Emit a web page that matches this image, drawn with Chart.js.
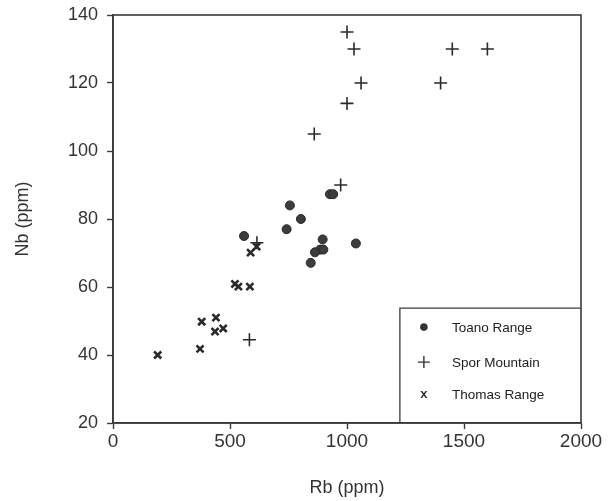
<!DOCTYPE html>
<html>
<head>
<meta charset="utf-8">
<script src="https://cdn.jsdelivr.net/npm/chart.js@4"></script>
<style>
  html, body { margin: 0; padding: 0; background: #fff; }
  #wrap { width: 611px; height: 501px; }
</style>
</head>
<body>
<div id="wrap"><canvas id="c" width="611" height="501"></canvas></div>
<script>
// values
var toanoRb = [560, 756, 803, 742, 927, 941, 896, 885, 899, 863, 845, 1038];
var toanoNb = [75, 84, 80, 77, 87.3, 87.3, 74, 71, 71, 70.2, 67.1, 72.8];

var sporRb = [1000, 1030, 1450, 1600, 1060, 1400, 1000, 860, 973, 615, 583];
var sporNb = [135, 130, 130, 130, 120, 120, 114, 105, 90, 73, 44.5];

var thomasRb = [614, 588, 521, 536, 585, 379, 440, 436, 471, 372, 191];
var thomasNb = [71.9, 70.1, 60.9, 60.1, 60.1, 49.8, 51, 46.9, 47.8, 41.8, 40];

var seriesNames = ['Toano Range', 'Spor Mountain', 'Thomas Range'];
var xTicks = [0, 500, 1000, 1500, 2000];
var yTicks = [20, 40, 60, 80, 100, 120, 140];

function pts(xs, ys) {
  return xs.map(function (x, i) { return { x: x, y: ys[i] }; });
}

var ink = '#3a3a3a';
var font = "'Liberation Sans', Arial, sans-serif";

// frame + legend box, drawn after datasets
var framePlugin = {
  id: 'frame',
  afterDraw: function (chart) {
    var ctx = chart.ctx, a = chart.chartArea;
    var xs = chart.scales.x, ys = chart.scales.y;
    ctx.save();
    ctx.strokeStyle = ink;
    ctx.lineWidth = 1.6;
    ctx.strokeRect(a.left, a.top, a.right - a.left, a.bottom - a.top);

    // legend box in the lower right corner
    var bx = xs.getPixelForValue(1226), by = ys.getPixelForValue(53.8);
    ctx.lineWidth = 1.3;
    ctx.beginPath();
    ctx.moveTo(bx, a.bottom);
    ctx.lineTo(bx, by);
    ctx.lineTo(a.right, by);
    ctx.stroke();

    var mx = bx + 24, tx = bx + 52;
    var rows = [by + 19, by + 54, by + 86];
    ctx.fillStyle = '#333';
    ctx.strokeStyle = '#333';
    // dot
    ctx.beginPath();
    ctx.arc(mx, rows[0], 3.8, 0, Math.PI * 2);
    ctx.fill();
    // plus
    ctx.lineWidth = 1.4;
    ctx.beginPath();
    ctx.moveTo(mx - 6, rows[1]); ctx.lineTo(mx + 6, rows[1]);
    ctx.moveTo(mx, rows[1] - 6); ctx.lineTo(mx, rows[1] + 6);
    ctx.stroke();
    // x
    ctx.font = 'bold 13px ' + font;
    ctx.textAlign = 'center';
    ctx.textBaseline = 'middle';
    ctx.fillText('x', mx, rows[2]);

    ctx.textAlign = 'left';
    ctx.fillStyle = '#222';
    ctx.font = '13.5px ' + font;
    seriesNames.forEach(function (n, i) {
      ctx.fillText(n, tx, rows[i] + 1);
    });
    ctx.restore();
  }
};

new Chart(document.getElementById('c'), {
  type: 'scatter',
  data: {
    datasets: [
      {
        label: seriesNames[0],
        data: pts(toanoRb, toanoNb),
        pointStyle: 'circle',
        pointRadius: 4.5,
        backgroundColor: '#3c3c3c',
        borderColor: '#2a2a2a',
        borderWidth: 1
      },
      {
        label: seriesNames[1],
        data: pts(sporRb, sporNb),
        pointStyle: 'cross',
        pointRadius: 6.5,
        borderColor: '#2a2a2a',
        borderWidth: 1.6
      },
      {
        label: seriesNames[2],
        data: pts(thomasRb, thomasNb),
        pointStyle: 'crossRot',
        pointRadius: 5,
        borderColor: '#2a2a2a',
        borderWidth: 2.6
      }
    ]
  },
  options: {
    responsive: false,
    animation: false,
    layout: { padding: { top: 15, right: 30, left: 8, bottom: 0 } },
    plugins: { legend: { display: false }, tooltip: { enabled: false } },
    scales: {
      x: {
        type: 'linear',
        min: 0, max: 2000,
        afterBuildTicks: function (s) { s.ticks = xTicks.map(function (v) { return { value: v }; }); },
        afterFit: function (s) { s.height = 78; s.paddingLeft = 0; s.paddingRight = 0; },
        grid: { display: true, drawOnChartArea: false, drawTicks: true, tickLength: 6, tickColor: ink, tickWidth: 1.4 },
        border: { display: true, color: ink, width: 1.6 },
        ticks: {
          color: '#333', font: { family: font, size: 19 }, padding: 1,
          callback: function (v) { return String(v); }
        },
        title: { display: true, text: 'Rb (ppm)', color: '#333', font: { family: font, size: 18 }, padding: { top: 10, bottom: 2 } }
      },
      y: {
        type: 'linear',
        min: 20, max: 140,
        afterBuildTicks: function (s) { s.ticks = yTicks.map(function (v) { return { value: v }; }); },
        afterFit: function (s) { s.width = 105; s.paddingTop = 0; s.paddingBottom = 0; },
        grid: { display: true, drawOnChartArea: false, drawTicks: true, tickLength: 6, tickColor: ink, tickWidth: 1.4 },
        border: { display: true, color: ink, width: 1.6 },
        ticks: {
          color: '#333', font: { family: font, size: 18 }, padding: 9,
          callback: function (v) { return String(v); }
        },
        title: { display: true, text: 'Nb (ppm)', color: '#333', font: { family: font, size: 18 }, padding: { bottom: 8 } }
      }
    }
  },
  plugins: [framePlugin]
});
</script>
</body>
</html>
